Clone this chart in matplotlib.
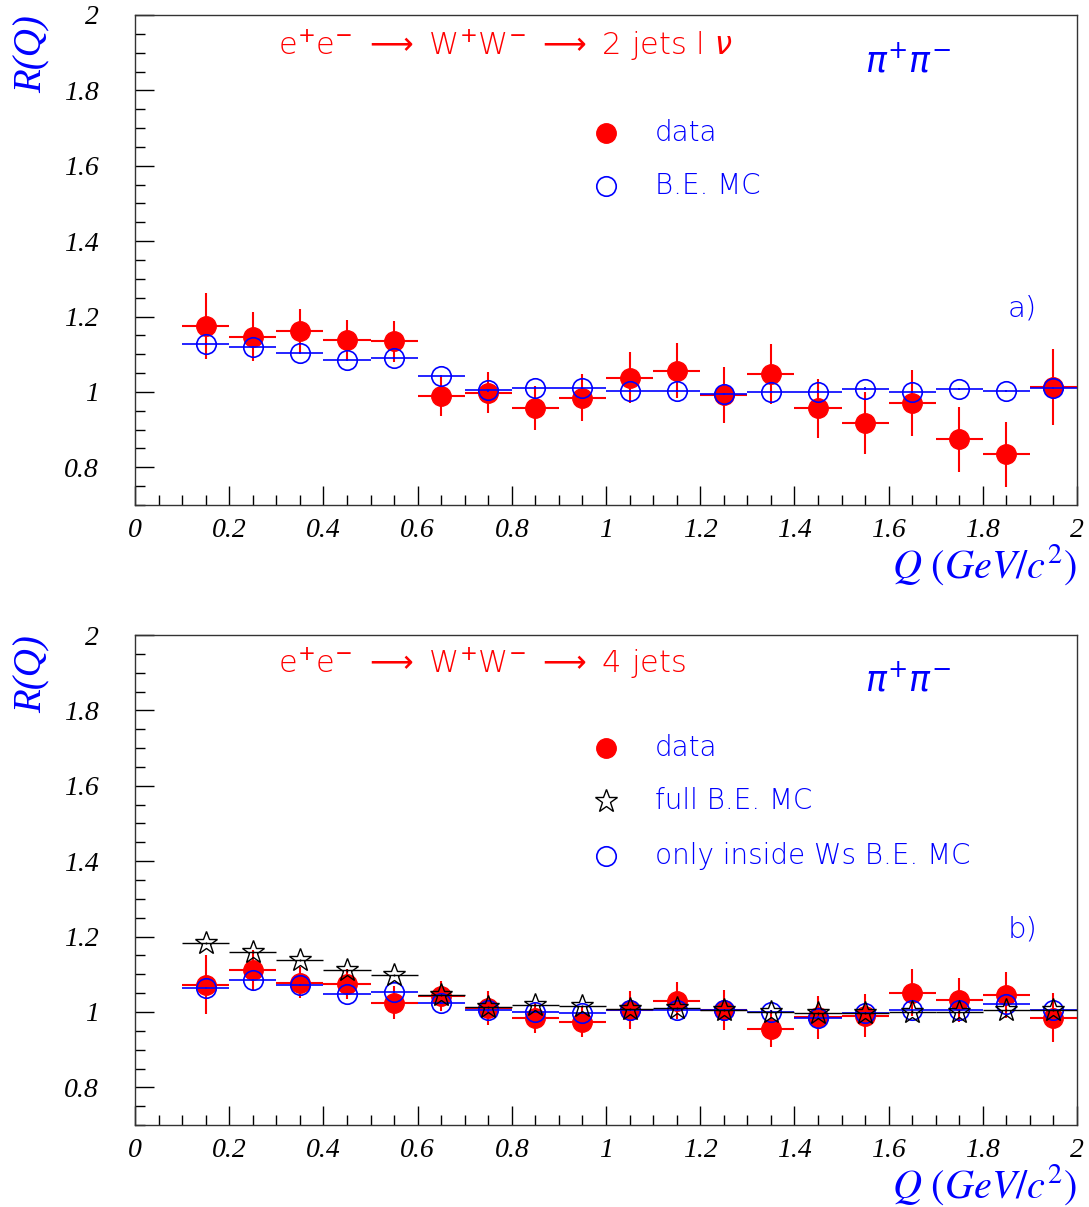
import numpy as np
import matplotlib
matplotlib.use('Agg')
import matplotlib.pyplot as plt
from matplotlib.ticker import MultipleLocator

# Q bins (GeV/c^2), bin half width 0.05
q = [0.15, 0.25, 0.35, 0.45, 0.55, 0.65, 0.75, 0.85, 0.95, 1.05,
     1.15, 1.25, 1.35, 1.45, 1.55, 1.65, 1.75, 1.85, 1.95]
qerr = 0.05

# panel a) : 2 jets l nu
data_a = [1.175, 1.146, 1.162, 1.138, 1.134, 0.988, 0.998, 0.957, 0.985, 1.038,
          1.056, 0.992, 1.047, 0.957, 0.918, 0.970, 0.874, 0.834, 1.013]
data_a_err = [0.088, 0.065, 0.058, 0.054, 0.055, 0.052, 0.055, 0.059, 0.063, 0.067,
              0.073, 0.074, 0.080, 0.078, 0.082, 0.088, 0.087, 0.087, 0.100]
mc_a = [1.128, 1.120, 1.104, 1.084, 1.090, 1.042, 1.004, 1.010, 1.011, 1.003,
        1.003, 0.994, 1.000, 1.001, 1.009, 1.000, 1.007, 1.003, 1.011]

# panel b) : 4 jets
data_b = [1.072, 1.110, 1.078, 1.075, 1.025, 1.043, 1.010, 0.983, 0.974, 1.005,
          1.030, 1.005, 0.956, 0.986, 0.990, 1.051, 1.032, 1.045, 0.985]
data_b_err = [0.078, 0.055, 0.040, 0.040, 0.044, 0.040, 0.045, 0.040, 0.040, 0.050,
              0.050, 0.053, 0.049, 0.057, 0.057, 0.062, 0.059, 0.062, 0.064]
full_mc_b = [1.183, 1.159, 1.137, 1.110, 1.099, 1.045, 1.014, 1.019, 1.016, 1.007,
             1.010, 1.005, 1.001, 0.996, 0.998, 1.001, 1.001, 1.005, 1.005]
inside_mc_b = [1.063, 1.085, 1.072, 1.048, 1.052, 1.023, 1.004, 1.001, 0.998, 1.005,
               1.005, 1.005, 1.001, 0.985, 0.998, 1.005, 1.005, 1.020, 1.005]

RED = '#ff0000'
BLUE = '#0000ff'
txtfont = 'DejaVu Sans'
serif = 'Liberation Serif'
plt.rcParams['mathtext.fontset'] = 'dejavusans'

fig = plt.figure(figsize=(10.89, 12.07), dpi=100)
ax1 = fig.add_axes([0.124, 0.5816, 0.865, 0.406])
ax2 = fig.add_axes([0.124, 0.0679, 0.865, 0.406])


def style_axes(ax):
    ax.set_xlim(0, 2)
    ax.set_ylim(0.7, 2)
    ax.xaxis.set_minor_locator(MultipleLocator(0.05))
    ax.yaxis.set_minor_locator(MultipleLocator(0.05))
    ax.set_yticks([0.8, 1.0, 1.2, 1.4, 1.6, 1.8, 2.0])
    ax.set_yticklabels(['0.8', '1', '1.2', '1.4', '1.6', '1.8', '2'])
    ax.set_xticks([0, 0.2, 0.4, 0.6, 0.8, 1.0, 1.2, 1.4, 1.6, 1.8, 2.0])
    ax.set_xticklabels(['0', '0.2', '0.4', '0.6', '0.8', '1', '1.2', '1.4', '1.6', '1.8', '2'])
    ax.tick_params(which='both', direction='in', top=False, right=False, width=1)
    ax.tick_params(which='major', length=14)
    ax.tick_params(which='minor', length=7)
    ax.tick_params(axis='y', pad=26)
    ax.tick_params(axis='x', pad=9)
    for lab in ax.get_xticklabels() + ax.get_yticklabels():
        lab.set_fontfamily(serif)
        lab.set_fontstyle('italic')
        lab.set_fontsize(20)
    for s in ax.spines.values():
        s.set_linewidth(1.0)
        s.set_color('#333333')
    ax.set_ylabel('R(Q)', fontfamily=serif, fontstyle='italic',
                  fontsize=28, color=BLUE, loc='top', labelpad=10)
    ax.set_xlabel(r'$Q\ (GeV/c^{2})$', math_fontfamily='stix',
                  fontsize=29, color=BLUE, loc='right', labelpad=0)


# ---- panel a
style_axes(ax1)
ax1.errorbar(q, data_a, xerr=qerr, yerr=data_a_err, fmt='o', color=RED, ms=14,
             elinewidth=1.5, capsize=0, zorder=3)
ax1.errorbar(q, mc_a, xerr=qerr, yerr=0.003, fmt='o', mfc='none', mec=BLUE, color=BLUE,
             ms=14, mew=1.2, elinewidth=1.2, capsize=0, zorder=4)

ax1.text(0.304, 1.92, r'e$^{+}$e$^{-}$ $\longrightarrow$ W$^{+}$W$^{-}$ $\longrightarrow$ 2 jets l $\nu$',
         color=RED, fontsize=22, fontfamily=txtfont, fontweight='light', va='center')
ax1.text(1.55, 1.875, r'$\pi^{+}\pi^{-}$', color=BLUE, fontsize=25, va='center',
         fontfamily=txtfont)
ax1.plot([1.0], [1.687], 'o', color=RED, ms=14)
ax1.text(1.104, 1.687, 'data', color=BLUE, fontsize=20, fontfamily=txtfont,
         fontweight='light', va='center')
ax1.plot([1.0], [1.546], 'o', mfc='none', mec=BLUE, ms=14, mew=1.2)
ax1.text(1.104, 1.546, 'B.E. MC', color=BLUE, fontsize=20, fontfamily=txtfont,
         fontweight='light', va='center')
ax1.text(1.853, 1.222, 'a)', color=BLUE, fontsize=21, fontfamily=txtfont,
         fontweight='light', va='center')

# ---- panel b
style_axes(ax2)
ax2.errorbar(q, data_b, xerr=qerr, yerr=data_b_err, fmt='o', color=RED, ms=14,
             elinewidth=1.5, capsize=0, zorder=3)
ax2.errorbar(q, inside_mc_b, xerr=qerr, yerr=0.003, fmt='o', mfc='none', mec=BLUE, color=BLUE,
             ms=14, mew=1.2, elinewidth=1.2, capsize=0, zorder=4)
ax2.errorbar(q, full_mc_b, xerr=qerr, yerr=0.003, fmt='*', mfc='none', mec='black', color='black',
             ms=17, mew=1.0, elinewidth=1.0, capsize=0, zorder=5)

ax2.text(0.304, 1.925, r'e$^{+}$e$^{-}$ $\longrightarrow$ W$^{+}$W$^{-}$ $\longrightarrow$ 4 jets',
         color=RED, fontsize=22, fontfamily=txtfont, fontweight='light', va='center')
ax2.text(1.55, 1.88, r'$\pi^{+}\pi^{-}$', color=BLUE, fontsize=25, va='center',
         fontfamily=txtfont)
ax2.plot([1.0], [1.699], 'o', color=RED, ms=14)
ax2.text(1.104, 1.699, 'data', color=BLUE, fontsize=20, fontfamily=txtfont,
         fontweight='light', va='center')
ax2.plot([1.0], [1.56], '*', mfc='none', mec='black', ms=17, mew=1.0)
ax2.text(1.104, 1.56, 'full B.E. MC', color=BLUE, fontsize=20, fontfamily=txtfont,
         fontweight='light', va='center')
ax2.plot([1.0], [1.413], 'o', mfc='none', mec=BLUE, ms=14, mew=1.2)
ax2.text(1.104, 1.413, 'only inside Ws B.E. MC', color=BLUE, fontsize=20, fontfamily=txtfont,
         fontweight='light', va='center')
ax2.text(1.853, 1.22, 'b)', color=BLUE, fontsize=21, fontfamily=txtfont,
         fontweight='light', va='center')

fig.savefig('out.png', dpi=100)
